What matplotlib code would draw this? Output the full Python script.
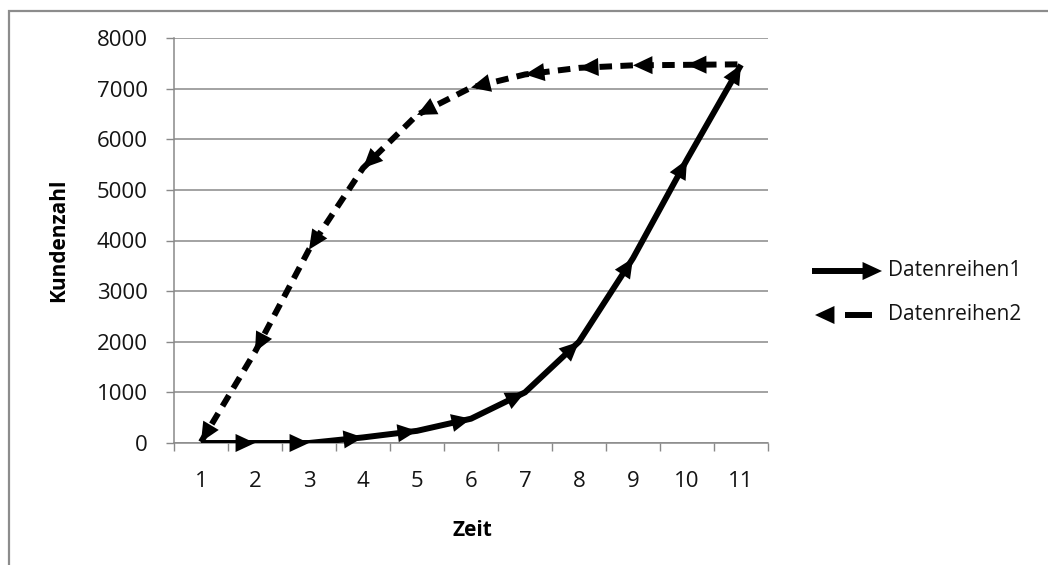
import matplotlib.pyplot as plt
from matplotlib.patches import Rectangle

# Daten
zeit = [1, 2, 3, 4, 5, 6, 7, 8, 9, 10, 11]
datenreihen1 = [0, 0, 0, 110, 240, 480, 1000, 2000, 3650, 5600, 7470]
datenreihen2 = [20, 1800, 3820, 5430, 6480, 7020, 7280, 7410, 7460, 7470, 7480]
serien_namen = ["Datenreihen1", "Datenreihen2"]
y_ticks = [0, 1000, 2000, 3000, 4000, 5000, 6000, 7000, 8000]

W, H = 1048, 565
plt.rcParams['font.family'] = ['Open Sans', 'DejaVu Sans']

fig = plt.figure(figsize=(W / 100, H / 100), dpi=100)
ax = fig.add_axes([174 / W, 1 - 443 / H, (768 - 174) / W, (443 - 38) / H])

grau = '#898989'
lw_linie = 4.3
kopf = dict(arrowstyle='-|>,head_length=14,head_width=6.5', mutation_scale=1,
            lw=0, color='black', shrinkA=0, shrinkB=0)

# Reihe 1: durchgezogen, Pfeile nach vorne
ax.plot(zeit, datenreihen1, color='black', lw=lw_linie, solid_capstyle='butt', zorder=3)
for i in range(1, len(zeit)):
    ax.annotate('', xy=(zeit[i], datenreihen1[i]), xytext=(zeit[i - 1], datenreihen1[i - 1]),
                arrowprops=kopf, zorder=4)

# Reihe 2: gestrichelt, Pfeile nach hinten
ax.plot(zeit, datenreihen2, color='black', lw=lw_linie, dashes=(2.1, 1.4),
        dash_capstyle='butt', zorder=3)
for i in range(len(zeit) - 1):
    ax.annotate('', xy=(zeit[i], datenreihen2[i]), xytext=(zeit[i + 1], datenreihen2[i + 1]),
                arrowprops=kopf, zorder=4)

ax.set_xlim(0.5, 11.5)
ax.set_ylim(0, 8000)
ax.set_yticks(y_ticks)
ax.set_xticks([x + 0.5 for x in range(12)], labels=[''] * 12)
ax.set_xticks(zeit, labels=[str(z) for z in zeit], minor=True)
ax.tick_params(axis='x', which='major', length=5.8, width=1, color=grau)
ax.tick_params(axis='x', which='minor', length=0, pad=20, labelsize=16, labelcolor='#141414')
ax.tick_params(axis='y', length=5.8, width=1, color=grau, pad=13, labelsize=16,
               labelcolor='#141414')
ax.grid(axis='y', color=grau, lw=1.1, zorder=0)
ax.set_axisbelow(True)
for s in ['top', 'right']:
    ax.spines[s].set_visible(False)
for s in ['left', 'bottom']:
    ax.spines[s].set_color(grau)
    ax.spines[s].set_linewidth(1.1)

fig.text(472 / W, 1 - 530 / H, 'Zeit', fontsize=15, fontweight='bold', ha='center', va='center')
fig.text(59 / W, 1 - 240 / H, 'Kundenzahl', fontsize=15, fontweight='bold', rotation=90,
         ha='center', va='center')

# Legende
def fp(x, y):
    return (x / W, 1 - y / H)

fig.add_artist(plt.Line2D([812 / W, 868 / W], [1 - 271 / H] * 2, color='black', lw=lw_linie,
                          solid_capstyle='butt'))
fig.add_artist(plt.Line2D([845 / W, 872 / W], [1 - 315 / H] * 2, color='black', lw=lw_linie,
                          solid_capstyle='butt'))
ax.annotate('', xy=fp(882, 271), xytext=fp(855, 271), xycoords='figure fraction',
            textcoords='figure fraction', arrowprops=kopf, annotation_clip=False)
ax.annotate('', xy=fp(815, 315), xytext=fp(840, 315), xycoords='figure fraction',
            textcoords='figure fraction', arrowprops=kopf, annotation_clip=False)
fig.text(888 / W, 1 - 271 / H, serien_namen[0], fontsize=15, va='center', color='#141414')
fig.text(888 / W, 1 - 315 / H, serien_namen[1], fontsize=15, va='center', color='#141414')

# Rahmen
fig.add_artist(Rectangle((8.5 / W, -0.1), 1.2, 1.1 - 11 / H, transform=fig.transFigure,
                         fill=False, edgecolor='#8c8c8c', lw=1.6))

fig.savefig('out.png', dpi=100)
